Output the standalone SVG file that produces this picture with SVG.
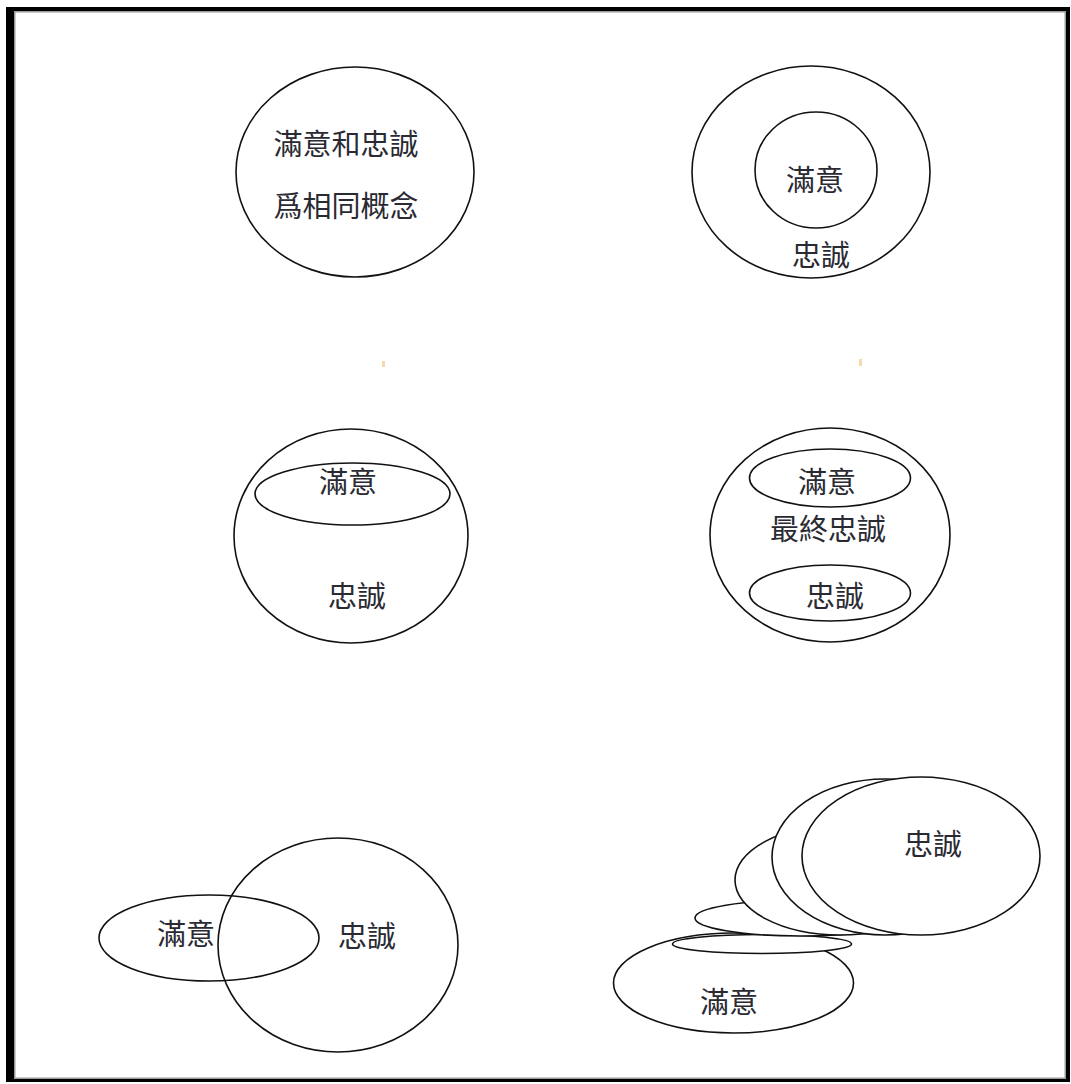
<svg xmlns="http://www.w3.org/2000/svg" width="1071" height="1084" viewBox="0 0 1071 1084">
<style>
.s{fill:#fff;stroke:#111;stroke-width:1.6}
.n{fill:none;stroke:#111;stroke-width:1.6}
.t{font-family:"Noto Sans CJK TC","Noto Sans CJK SC",sans-serif;font-size:29px;fill:#2a2a33;text-anchor:middle;dominant-baseline:central}
</style>
<rect x="0" y="0" width="1071" height="1084" fill="#fff"/>
<g id="frame">
<rect x="6" y="7" width="1064" height="1075" fill="#000"/>
<rect x="14" y="11" width="1052" height="1068" fill="#fff"/>
<rect x="14.75" y="11.75" width="1050.5" height="1066.5" fill="none" stroke="#9a9a9a" stroke-width="1.5"/>
</g>
<g id="dots">
<rect x="382" y="361" width="3" height="6" fill="#f7d9ad"/>
<rect x="859" y="359" width="3" height="7" fill="#f7d9ad"/>
</g>
<g id="connectors"></g>
<g id="same">
<ellipse class="s" cx="355" cy="172" rx="119" ry="105"/>
<text class="t" x="346" y="142">滿意和忠誠</text>
<text class="t" x="346" y="204">爲相同概念</text>
</g>
<g id="nested">
<ellipse class="s" cx="811" cy="172" rx="119" ry="106"/>
<ellipse class="s" cx="816" cy="170" rx="61" ry="58"/>
<text class="t" x="815" y="178">滿意</text>
<text class="t" x="821" y="253">忠誠</text>
</g>
<g id="partial">
<ellipse class="s" cx="351" cy="536" rx="117" ry="107"/>
<ellipse class="s" cx="352.5" cy="494" rx="97.5" ry="31"/>
<text class="t" x="348" y="480">滿意</text>
<text class="t" x="357" y="594">忠誠</text>
</g>
<g id="ultimate">
<ellipse class="s" cx="830" cy="535" rx="120" ry="107"/>
<ellipse class="s" cx="830" cy="478" rx="80.5" ry="29"/>
<ellipse class="s" cx="830" cy="593" rx="80.5" ry="28"/>
<text class="t" x="827" y="480">滿意</text>
<text class="t" x="828" y="527">最終忠誠</text>
<text class="t" x="835" y="594">忠誠</text>
</g>
<g id="overlap">
<ellipse class="s" cx="209" cy="938" rx="110" ry="43"/>
<ellipse class="n" cx="338" cy="945" rx="120" ry="107"/>
<text class="t" x="186" y="932">滿意</text>
<text class="t" x="367" y="934">忠誠</text>
</g>
<g id="transform">
<ellipse class="s" cx="733.5" cy="983" rx="120" ry="50"/>
<ellipse class="s" cx="762" cy="944" rx="89.5" ry="9.5"/>
<ellipse class="s" cx="800" cy="918" rx="105" ry="18"/>
<ellipse class="s" cx="840" cy="880" rx="105" ry="55"/>
<ellipse class="s" cx="885" cy="857" rx="113" ry="78"/>
<ellipse class="s" cx="921" cy="856" rx="119" ry="79"/>
<text class="t" x="933" y="842">忠誠</text>
<text class="t" x="729" y="1000">滿意</text>
</g>
</svg>
